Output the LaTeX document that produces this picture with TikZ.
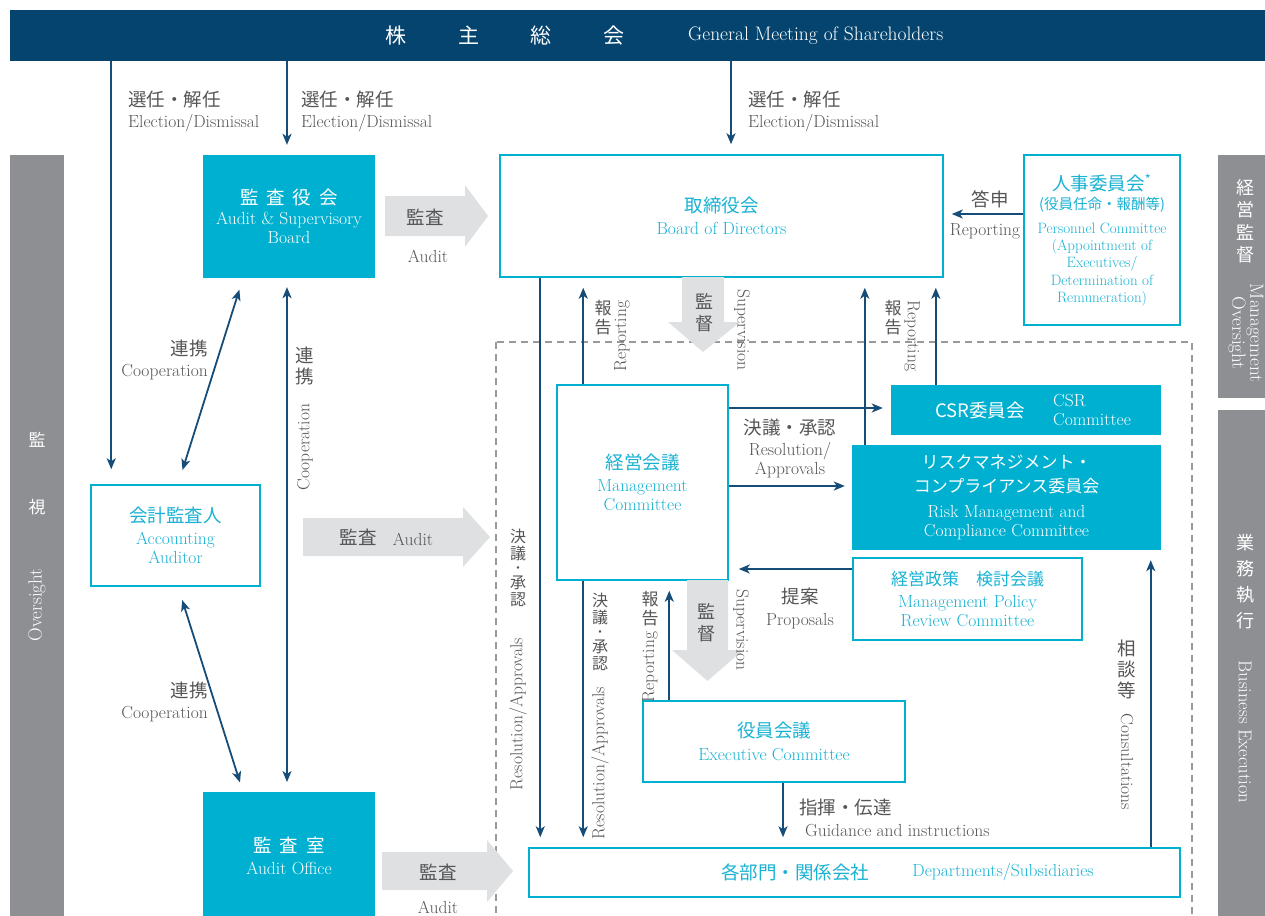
\documentclass[tikz,border=0pt]{standalone}
\usepackage{fontspec}
\newfontfamily\jpf{Noto Sans CJK JP}
\usetikzlibrary{arrows.meta}
\definecolor{navy}{HTML}{05446F}
\definecolor{flowblue}{HTML}{164C78}
\definecolor{boxcyan}{HTML}{00B0D0}
\definecolor{titlecyan}{HTML}{19B2D3}
\definecolor{barsgray}{HTML}{8E8F93}
\definecolor{arrowgray}{HTML}{DFE0E2}
\definecolor{labelgray}{HTML}{555555}
\definecolor{dashgray}{HTML}{9A9A9A}
\newcommand{\en}{\fontsize{17.5}{19}\selectfont}
\newcommand{\jp}{\jpf\fontsize{18.5}{21}\selectfont}
\newcommand{\jps}{\jpf\fontsize{17}{19}\selectfont}
\newcommand{\vdot}{{\fontsize{12}{12}\selectfont ・}}

\begin{document}
\begin{tikzpicture}[x=1pt,y=1pt]
	\tikzstyle{every node}+=[inner sep=0pt]
	\tikzstyle{solidbox}=[fill=boxcyan, text=white, align=center, font=\en]
	\tikzstyle{linebox}=[draw=boxcyan, line width=1.5pt, fill=white, text=titlecyan, align=center, font=\en]
	\tikzstyle{flow}=[draw=flowblue, line width=1.8pt, -{Stealth[length=11pt,width=9pt,inset=3pt]}]
	\tikzstyle{both}=[flow, {Stealth[length=11pt,width=9pt,inset=3pt]}-{Stealth[length=11pt,width=9pt,inset=3pt]}]
	\tikzstyle{lbl}=[text=labelgray, align=center, font=\en]
	\tikzstyle{vlbl}=[text=labelgray, align=center, font=\jps]
	\tikzstyle{vstack}=[text=labelgray, align=center, font=\jpf\fontsize{16}{17}\selectfont]
	\tikzstyle{bartext}=[text=white, align=center]
	\useasboundingbox (0,0) rectangle (1265,-915);
	\clip (0,0) rectangle (1265,-915);

	% side bars
	\fill[barsgray] (10,-155) rectangle (64,-930);
	\fill[barsgray] (1218,-155) rectangle (1275,-398);
	\fill[barsgray] (1218,-410) rectangle (1275,-930);
	\node[bartext, font=\jps] (ovjp1) at (37,-440) {監};
	\node[bartext, font=\jps] (ovjp2) at (37,-507) {視};
	\node[bartext, font=\fontsize{19}{19}\selectfont, rotate=90] (oven) at (37,-605) {Oversight};
	\node[bartext, font=\jpf\fontsize{18}{22.5}\selectfont] (mojp) at (1245,-221) {経\\営\\監\\督};
	\node[bartext, font=\fontsize{19}{18}\selectfont, rotate=-90] (moen) at (1246,-333) {Management\\Oversight};
	\node[bartext, font=\jpf\fontsize{18}{26}\selectfont] (bejp) at (1245,-582) {業\\務\\執\\行};
	\node[bartext, font=\fontsize{18.5}{19}\selectfont, rotate=-90] (been) at (1245,-732) {Business Execution};

	% dashed execution area
	\draw[dashgray, line width=1.2pt, dash pattern=on 7pt off 5pt] (496,-342) rectangle (1192,-940);

	% general meeting
	\node[fill=navy, minimum width=1260, minimum height=51, anchor=north west] (gm) at (10,-10) {};
	\node[text=white, font=\jpf\fontsize{21}{24}\selectfont] (gmjp) at (505,-36) {株\hspace{52pt}主\hspace{52pt}総\hspace{52pt}会};
	\node[text=white, font=\fontsize{19.5}{21}\selectfont, anchor=west] (gmen) at (688,-36) {General Meeting of Shareholders};

	% boxes
	\node[solidbox, minimum width=172, minimum height=123] (asb) at (289,-216.5) {{\jp 監\hspace{8pt}査\hspace{8pt}役\hspace{8pt}会}\\[1pt] Audit \& Supervisory\\ Board};
	\node[linebox, minimum width=443, minimum height=122] (bod) at (721.5,-216) {{\jp 取締役会}\\[3pt] Board of Directors};
	\node[linebox, minimum width=156, minimum height=170, font=\fontsize{15}{17.3}\selectfont] (pc) at (1102,-240) {{\jp 人事委員会\textsuperscript{*}}\\[2pt] {\jpf\fontsize{14.5}{17}\selectfont (役員任命・報酬等)}\\[6pt] Personnel Committee\\ (Appointment of\\ Executives/\\ Determination of\\ Remuneration)};
	\node[linebox, minimum width=169, minimum height=101] (acc) at (175.5,-535.5) {{\jp 会計監査人}\\[3pt] Accounting\\ Auditor};
	\node[solidbox, minimum width=172, minimum height=135, anchor=north] (ao) at (289,-792) {};
	\node[text=white, align=center, font=\en] (aotxt) at (289,-856) {{\jp 監\hspace{8pt}査\hspace{8pt}室}\\[3pt] Audit Office};
	\node[linebox, minimum width=171, minimum height=195] (mc) at (642.5,-482.5) {{\jp 経営会議}\\[3pt] Management\\ Committee};
	\node[solidbox, minimum width=270, minimum height=50] (csr) at (1026,-410) {};
	\node[text=white, font=\jp] (csrjp) at (980,-411) {CSR委員会};
	\node[text=white, align=left, font=\en, anchor=west] (csren) at (1053,-410.5) {CSR\\ Committee};
	\node[solidbox, minimum width=309, minimum height=105] (rm) at (1006.5,-497.5) {{\jps リスクマネジメント・}\\[5pt] {\jps コンプライアンス委員会}\\[6pt] Risk Management and\\ Compliance Committee};
	\node[linebox, minimum width=229, minimum height=82] (mp) at (967.5,-599) {{\jps 経営政策\hspace{17pt}検討会議}\\[3pt] Management Policy\\ Review Committee};
	\node[linebox, minimum width=262, minimum height=81] (ec) at (774,-741.5) {{\jp 役員会議}\\[4pt] Executive Committee};
	\node[linebox, minimum width=651, minimum height=49] (dep) at (854.5,-872.5) {};
	\node[text=titlecyan, font=\jp] (depjp) at (795,-872) {各部門・関係会社};
	\node[text=titlecyan, font=\en] (depen) at (1003,-872) {Departments/Subsidiaries};

	% big gray arrows
	\fill[arrowgray] (385,-196) -- (465,-196) -- (465,-185) -- (488,-216) -- (465,-247) -- (465,-236) -- (385,-236) -- cycle;
	\node[vlbl, font=\jp] (aud1jp) at (425,-217) {監査};
	\node[lbl] (aud1en) at (428,-256) {Audit};
	\fill[arrowgray] (303,-518) -- (463,-518) -- (463,-507) -- (490,-537) -- (463,-567) -- (463,-556) -- (303,-556) -- cycle;
	\node[vlbl, font=\jp] (aud2jp) at (358,-537) {監査};
	\node[lbl] (aud2en) at (413,-539) {Audit};
	\fill[arrowgray] (382,-852) -- (487,-852) -- (487,-840) -- (513,-871) -- (487,-902) -- (487,-890) -- (382,-890) -- cycle;
	\node[vlbl, font=\jp] (aud3jp) at (438,-872) {監査};
	\node[lbl] (aud3en) at (438,-907) {Audit};
	\fill[arrowgray] (682,-277) -- (724,-277) -- (724,-322) -- (740,-322) -- (703,-352) -- (668,-322) -- (682,-322) -- cycle;
	\node[vlbl, font=\jpf\fontsize{18}{22}\selectfont] (sup1jp) at (704,-313) {監\\督};
	\node[lbl, rotate=-90] (sup1en) at (742,-330) {Supervision};
	\fill[arrowgray] (687,-580) -- (728,-580) -- (728,-650) -- (743,-650) -- (707.5,-681) -- (672,-650) -- (687,-650) -- cycle;
	\node[vlbl, font=\jpf\fontsize{18}{22}\selectfont] (sup2jp) at (706,-623) {監\\督};
	\node[lbl, rotate=-90] (sup2en) at (741,-630) {Supervision};

	% election / dismissal
	\draw[flow, shorten >=15pt] ([xshift=21]acc.north west |- gm.south) -- ([xshift=21]acc.north west);
	\draw[flow, shorten >=10pt] ([xshift=-2]asb.north |- gm.south) -- ([xshift=-2]asb.north);
	\draw[flow, shorten >=10pt] ([xshift=9.5]bod.north |- gm.south) -- ([xshift=9.5]bod.north);
	\node[lbl, align=left, anchor=west] (el1) at (128,-111) {{\jp 選任・解任}\\[2pt] Election/Dismissal};
	\node[lbl, align=left, anchor=west] (el2) at (301,-111) {{\jp 選任・解任}\\[2pt] Election/Dismissal};
	\node[lbl, align=left, anchor=west] (el3) at (748,-111) {{\jp 選任・解任}\\[2pt] Election/Dismissal};

	% cooperation
	\draw[both, shorten <=15pt, shorten >=12pt] ([xshift=2.5]acc.north) -- ([xshift=-46]asb.south);
	\draw[both, shorten <=14pt, shorten >=10pt] ([xshift=2.5]acc.south) -- ([xshift=-46]ao.north);
	\draw[both, shorten <=9pt, shorten >=10pt] ([xshift=-2]asb.south) -- ([xshift=-2]ao.north);
	\node[lbl, align=right, anchor=east] (co1) at (208,-360) {{\jp 連携}\\[2pt] Cooperation};
	\node[lbl, align=right, anchor=east] (co2) at (208,-702) {{\jp 連携}\\[2pt] Cooperation};
	\node[vlbl, font=\jp] (co3jp) at (305,-366) {連\\携};
	\node[lbl, rotate=90] (co3en) at (305,-447) {Cooperation};

	% board of directors and committees
	\draw[flow, shorten >=10pt] ([xshift=41]bod.south west) -- ([xshift=41]bod.south west |- dep.north);
	\node[vstack] (ra1jp) at (518,-568) {決\\議\\[-4pt]\vdot\\[-1pt]承\\認};
	\node[lbl, rotate=90] (ra1en) at (518,-714) {Resolution/Approvals};
	\draw[flow, shorten >=10pt] ([xshift=27]mc.north west) -- ([xshift=27]mc.north west |- bod.south);
	\node[vlbl] (rp1jp) at (603,-318) {報\\告};
	\node[lbl, rotate=90] (rp1en) at (622,-336) {Reporting};
	\draw[flow, shorten >=10pt] ([xshift=13]rm.north west) -- ([xshift=13]rm.north west |- bod.south);
	\draw[flow, shorten >=10pt] ([xshift=45]csr.north west) -- ([xshift=45]csr.north west |- bod.south);
	\node[vlbl] (rp2jp) at (893,-318) {報\\告};
	\node[lbl, rotate=-90] (rp2en) at (912,-336) {Reporting};
	\draw[flow, shorten >=8pt] ([yshift=26]pc.west) -- ([yshift=26]bod.east |- pc.west);
	\node[vlbl, font=\jp] (anjp) at (990,-199) {答申};
	\node[lbl] (anen) at (985,-231) {Reporting};

	% management committee
	\draw[flow, shorten >=8pt] ([yshift=2]mc.east |- csr.west) -- ([yshift=2]csr.west);
	\draw[flow, shorten >=7pt] ([yshift=11.5]mc.east |- rm.west) -- ([yshift=11.5]rm.west);
	\node[lbl] (ra2) at (790,-448) {{\jp 決議・承認}\\[2pt] Resolution/\\ Approvals};
	\draw[flow, shorten >=10pt] ([yshift=30]mp.west) -- ([yshift=30]mc.east |- mp.west);
	\node[lbl] (prop) at (800,-608) {{\jp 提案}\\[3pt] Proposals};
	\draw[flow, shorten >=10pt] ([xshift=27]mc.south west) -- ([xshift=27]mc.south west |- dep.north);
	\node[vstack] (ra3jp) at (600,-632) {決\\議\\[-4pt]\vdot\\[-1pt]承\\認};
	\node[lbl, rotate=90] (ra3en) at (600,-763) {Resolution/Approvals};

	% executive committee
	\draw[flow, shorten >=10pt] ([xshift=27]ec.north west) -- ([xshift=27]ec.north west |- mc.south);
	\node[vlbl] (rp3jp) at (650,-609) {報\\告};
	\node[lbl, rotate=90] (rp3en) at (650,-667) {Reporting};
	\draw[flow, shorten >=10pt] ([xshift=9]ec.south) -- ([xshift=9]ec.south |- dep.north);
	\node[lbl, align=left, anchor=west] (gi) at (799,-818) {{\jp 指揮・伝達}\\[3pt] \hspace{6pt}Guidance and instructions};

	% departments
	\draw[flow, shorten >=10pt] ([xshift=-30]dep.north east) -- ([xshift=-30]dep.north east |- rm.south);
	\node[vlbl, font=\jp] (cnjp) at (1127,-669) {相\\談\\等};
	\node[lbl, rotate=-90] (cnen) at (1127,-762) {Consultations};
\end{tikzpicture}
\end{document}
